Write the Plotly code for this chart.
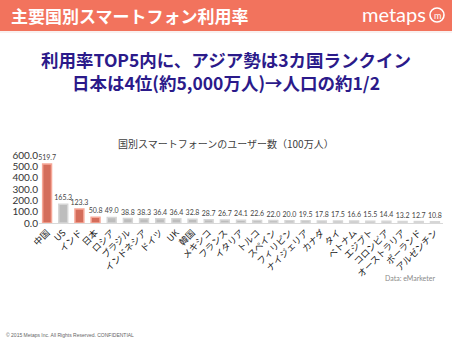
import plotly.graph_objects as go

# Smartphone users by country (millions)
countries = ["中国", "US", "インド", "日本", "ロシア", "ブラジル", "インドネシア", "ドイツ", "UK",
             "韓国", "メキシコ", "フランス", "イタリア", "トルコ", "スペイン", "フィリピン",
             "ナイジェリア", "カナダ", "タイ", "ベトナム", "エジプト", "コロンビア",
             "オーストラリア", "ポーランド", "アルゼンチン"]
users = [519.7, 165.3, 123.3, 50.8, 49.0, 38.8, 38.3, 36.4, 36.4, 32.8, 28.7, 26.7, 24.1,
         22.6, 22.0, 20.0, 19.5, 17.8, 17.5, 16.6, 15.5, 14.4, 13.2, 12.7, 10.8]
highlighted = ["中国", "インド", "日本"]
y_ticks = [0, 100, 200, 300, 400, 500, 600]

fill = ["#d46d5b" if c in highlighted else "#bdbdbd" for c in countries]
edge = ["#f6a797" if c in highlighted else "#d6d6d6" for c in countries]

JP = "Noto Sans CJK JP"
fig = go.Figure()
fig.add_trace(go.Bar(
    x=countries, y=users,
    marker=dict(color=fill, line=dict(color=edge, width=1.5)),
    text=[f"{v:.1f}" for v in users], textposition="outside",
    textfont=dict(size=7, color="#444444", family="Lato"),
    constraintext="none", cliponaxis=False, width=0.55,
))

# Slide geometry in pixels
H, W = 339, 452
pl, pr, pt, pb = 39, 9, 155, 116
pw, ph = W - pl - pr, H - pt - pb


def px(x):
    return (x - pl) / pw


def py(y):
    return (H - pb - y) / ph


fig.update_layout(
    width=W, height=H,
    margin=dict(l=pl, r=pr, t=pt, b=pb),
    paper_bgcolor="white", plot_bgcolor="white",
    showlegend=False,
    font=dict(family=JP, color="#333333"),
    xaxis=dict(tickangle=-45, tickfont=dict(size=9, color="#222222", family=JP),
               showline=True, linecolor="#d9d9d9", linewidth=1, ticks="",
               showgrid=False, fixedrange=True),
    yaxis=dict(range=[0, 600], tickvals=y_ticks,
               ticktext=[f"{v:.1f}" for v in y_ticks],
               tickfont=dict(size=10, color="#333333", family="Lato"),
               showgrid=False, zeroline=False, showline=False, ticks="",
               fixedrange=True),
    shapes=[
        dict(type="rect", xref="paper", yref="paper", x0=px(0), x1=px(W), y0=py(31), y1=py(0),
             fillcolor="#f2735d", line_width=0),
        dict(type="line", xref="paper", yref="paper", x0=px(0), x1=px(W), y0=py(32), y1=py(32),
             line=dict(color="#f3e3e0", width=1)),
        dict(type="circle", xref="paper", yref="paper", x0=px(430), x1=px(444),
             y0=py(22), y1=py(8), line=dict(color="white", width=1.6)),
    ],
)

annos = [
    dict(text="<b>主要国別スマートフォン利用率</b>", x=px(9), y=py(15), xanchor="left",
         font=dict(size=17, color="white", family=JP)),
    dict(text="metaps", x=px(428), y=py(14), xanchor="right",
         font=dict(size=20, color="white", family="Lato")),
    dict(text="m", x=px(437), y=py(15), xanchor="center",
         font=dict(size=9, color="white", family="Lato")),
    dict(text="<b>利用率TOP5内に、アジア勢は3カ国ランクイン<br>"
              "日本は4位(約5,000万人)→人口の約1/2</b>", x=px(226), y=py(71),
         xanchor="center", align="center",
         font=dict(size=17.5, color="#2b1a8a", family=JP)),
    dict(text="国別スマートフォーンのユーザー数（100万人）", x=px(226), y=py(143),
         xanchor="center", font=dict(size=10, color="#404040", family=JP)),
    dict(text="Data: eMarketer", x=px(437), y=py(278), xanchor="right",
         font=dict(size=7, color="#8a8a8a", family="Lato")),
    dict(text="© 2015 Metaps Inc. All Rights Reserved. CONFIDENTIAL", x=px(4), y=py(335),
         xanchor="left", font=dict(size=5, color="#666666", family="Liberation Sans")),
]
for a in annos:
    a.update(xref="paper", yref="paper", yanchor="middle", showarrow=False)
fig.update_layout(annotations=annos)

fig.write_html("out.html")
